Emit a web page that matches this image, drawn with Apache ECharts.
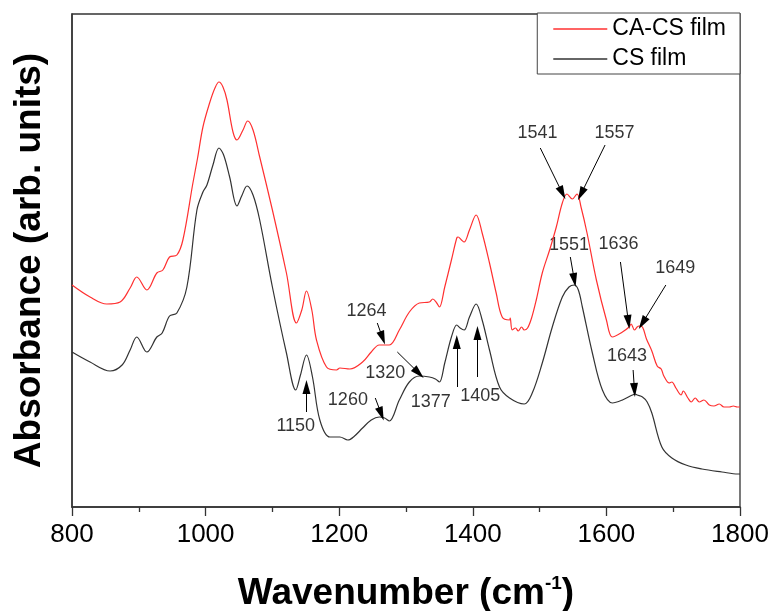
<!DOCTYPE html>
<html>
<head>
<meta charset="utf-8">
<script src="https://cdn.jsdelivr.net/npm/echarts@6/dist/echarts.min.js"></script>
<style>html,body{margin:0;padding:0;background:#fff;}#c{width:771px;height:611px;}</style>
</head>
<body>
<div id="c"></div>
<script>
// CA-CS film (red) spectrum
var caWavenumber = [800,827,852,872,887,897,912,927,936,946,957,966,981,988,996,1006,1014,1020,1026,1032,1041,1047,1056,1063,1071,1081,1100,1121,1136,1144,1151,1159,1166,1181,1196,1201,1216,1235,1248,1260,1275,1290,1305,1320,1335,1340,1346,1350,1358,1368,1376,1378,1383,1387,1395,1405,1414,1425,1435,1444,1455,1456,1459,1464,1468,1473,1477,1482,1488,1495,1504,1515,1525,1534,1541,1549,1556,1562,1571,1585,1600,1609,1624,1634,1637,1642,1646,1649,1654,1660,1668,1676,1682,1686,1694,1698,1704,1712,1715,1722,1727,1733,1739,1746,1754,1761,1769,1776,1784,1790,1796,1800];
var caAbsorbance = [222,210,203,205,219,230,217,234,237,250,252,267,324,349,380,404,419,425,420,407,375,367,377,386,377,350,297,234,184,197,216,197,167,140,137,139,138,145,155,162,162,177,195,204,205,208,204,200,220,247,269,270,267,265,277,292,274,244,214,190,187,189,177,179,176,180,177,179,189,207,234,257,280,304,313,308,313,300,274,227,187,170,175,180,183,177,180,181,180,168,156,141,138,131,124,125,119,112,116,109,105,109,105,107,102,101,103,100,100,101,100,100];
// CS film (black) spectrum
var csWavenumber = [800,827,857,875,887,897,912,927,935,946,957,972,987,996,1002,1011,1020,1027,1036,1047,1054,1062,1071,1081,1100,1121,1135,1142,1151,1160,1171,1186,1196,1201,1213,1223,1235,1248,1260,1268,1275,1290,1305,1320,1335,1344,1350,1358,1368,1376,1381,1387,1395,1405,1414,1425,1440,1455,1477,1489,1504,1519,1534,1544,1552,1558,1564,1579,1594,1609,1624,1639,1643,1646,1654,1661,1668,1683,1698,1719,1743,1773,1797,1800];
var csAbsorbance = [155,145,136,142,157,170,155,170,174,191,194,220,297,315,322,342,359,352,330,301,311,321,312,287,220,154,117,132,152,130,87,70,70,70,67,71,79,87,90,89,86,107,125,131,130,128,125,144,170,182,179,177,190,203,187,157,120,109,103,114,144,180,210,220,222,217,200,154,117,104,107,112,113,112,110,105,94,60,49,42,38,35,33,33];

// Peak annotations (label text, text anchor, arrow start/end in data units)
var annLabels = ['1541','1557','1551','1636','1649','1643','1264','1320','1260','1377','1405','1150'];
var annTextX  = [1497,1612,1544,1618,1703,1631,1241,1269,1213,1337,1411,1135];
var annTextY  = [374,374,262,263,239,151,196,134,107,105,111,81];
var annFromX  = [1501,1598,1546,1621,1689,1640,1257,1287,1254,1376,1407,1151];
var annFromY  = [359,362,250,245,222,137,184,155,109,120,130,95];
var annToX    = [1534,1562,1552,1633,1654,1642,1265,1319,1263,1376,1407,1151];
var annToY    = [314,313,227,185,184,117,169,134,93,165,174,120];

// x-axis ticks
var xMin = 800, xMax = 1800, xStep = 200;

function pairs(xs, ys){ return xs.map(function(x,i){ return [x, ys[i]]; }); }

var textData = annLabels.map(function(t,i){ return {value:[annTextX[i], annTextY[i]], name:t}; });
var arrowData = annLabels.map(function(t,i){ return [{coord:[annFromX[i], annFromY[i]]},{coord:[annToX[i], annToY[i]]}]; });

var FONT = 'Liberation Sans, Arial, sans-serif';
var chart = echarts.init(document.getElementById('c'), null, {renderer:'canvas'});
chart.setOption({
  animation: false,
  backgroundColor: '#fff',
  grid: {left:72, right:31, top:14, bottom:104, containLabel:false, outerBoundsMode:'none',
         show:true, borderColor:'#333', borderWidth:1.3, backgroundColor:'transparent'},
  legend: {
    data: ['CA-CS film','CS film'],
    right: 31, top: 13,
    orient: 'vertical',
    backgroundColor: '#fff',
    borderColor: '#444', borderWidth: 1,
    padding: [4, 14, 3, 16],
    icon: 'rect',
    itemWidth: 54, itemHeight: 1.5, itemGap: 6,
    textStyle: {fontFamily:FONT, fontSize: 23, color:'#000', lineHeight: 24}
  },
  xAxis: {
    type: 'value', min: xMin, max: xMax, interval: xStep,
    axisLine: {show:true, lineStyle:{color:'#333', width:1.5}},
    axisTick: {show:true, inside:false, length:9, lineStyle:{color:'#333', width:1.3}},
    minorTick: {show:true, splitNumber:2, length:5, lineStyle:{color:'#333', width:1.3}},
    splitLine: {show:false},
    axisLabel: {fontFamily:FONT, fontSize:26, color:'#000', margin:15, formatter:function(v){return String(v);}},
    name: 'Wavenumber (cm{sup|-1}{m|)}',
    nameLocation: 'middle', nameGap: 67,
    nameTextStyle: {fontFamily:FONT, fontSize:37, fontWeight:'bold', color:'#000', lineHeight: 40,
      rich: {
        sup: {fontFamily:FONT, fontSize:19, fontWeight:'bold', color:'#000', verticalAlign:'top', lineHeight: 40},
        m: {fontFamily:FONT, fontSize:37, fontWeight:'bold', color:'#000', lineHeight: 40}
      }}
  },
  yAxis: {
    type: 'value', min: 0, max: 493,
    axisLine: {show:true, lineStyle:{color:'#333', width:1.5}},
    axisTick: {show:false}, axisLabel: {show:false}, splitLine: {show:false},
    name: 'Absorbance (arb. units)',
    nameLocation: 'middle', nameRotate: 90, nameGap: 24,
    nameTextStyle: {fontFamily:FONT, fontSize:37, fontWeight:'bold', color:'#000'}
  },
  series: [
    {name:'CA-CS film', type:'line', data: pairs(caWavenumber, caAbsorbance), symbol:'none', smooth:0.35,
     lineStyle:{color:'#ff3030', width:1.2}, itemStyle:{color:'#ff3030'}},
    {name:'CS film', type:'line', data: pairs(csWavenumber, csAbsorbance), symbol:'none', smooth:0.35,
     lineStyle:{color:'#333', width:1.2}, itemStyle:{color:'#333'}},
    {name:'ann', type:'scatter', data: textData, symbolSize: 0, silent:true,
     label:{show:true, position:'inside', formatter:function(p){return p.name;}, fontFamily:FONT, fontSize:18, color:'#000'},
     markLine:{silent:true, symbol:['none','triangle'], symbolSize:[8,14], label:{show:false},
       lineStyle:{color:'#000', width:1, type:'solid'}, emphasis:{disabled:true}, data: arrowData}}
  ]
});
</script>
</body>
</html>
